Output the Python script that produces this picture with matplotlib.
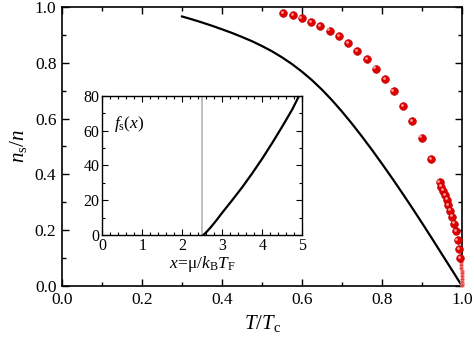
import matplotlib
matplotlib.use("Agg")
import matplotlib.pyplot as plt
import matplotlib.transforms as mtransforms
from matplotlib.ticker import MultipleLocator, FormatStrFormatter

plt.rcParams['font.family'] = 'serif'
plt.rcParams['font.serif'] = ['Liberation Serif', 'DejaVu Serif']
plt.rcParams['mathtext.fontset'] = 'custom'
plt.rcParams['mathtext.rm'] = 'Liberation Serif'
plt.rcParams['mathtext.it'] = 'Liberation Serif:italic'

# Theory curve: superfluid fraction vs reduced temperature
t_theory = [0.300, 0.325, 0.350, 0.375, 0.400, 0.425, 0.450, 0.475, 0.500,
            0.525, 0.550, 0.575, 0.600, 0.625, 0.650, 0.675, 0.700, 0.725,
            0.750, 0.775, 0.800, 0.825, 0.850, 0.875, 0.900, 0.925, 0.950,
            0.975, 1.000]
ns_theory = [0.966, 0.9557, 0.9445, 0.9327, 0.920, 0.9069, 0.8925, 0.8773,
             0.860, 0.8412, 0.8195, 0.7954, 0.768, 0.7376, 0.7035, 0.6659,
             0.625, 0.5815, 0.5355, 0.4877, 0.438, 0.387, 0.3345, 0.2809,
             0.226, 0.1701, 0.1135, 0.057, 0.0]

# Data points (large spheres)
t_points = [0.553, 0.577, 0.599, 0.622, 0.646, 0.669, 0.692, 0.715, 0.738,
            0.762, 0.784, 0.807, 0.829, 0.852, 0.876, 0.899, 0.922,
            0.944, 0.948, 0.952, 0.957, 0.962, 0.966, 0.971, 0.976, 0.980,
            0.985, 0.989, 0.993, 0.996]
ns_points = [0.978, 0.970, 0.959, 0.946, 0.932, 0.915, 0.895, 0.871, 0.843,
             0.814, 0.779, 0.742, 0.698, 0.646, 0.591, 0.532, 0.456,
             0.372, 0.356, 0.342, 0.327, 0.310, 0.290, 0.270, 0.249, 0.224,
             0.196, 0.165, 0.132, 0.099]

# Points very close to Tc (small markers)
t_near = [0.998, 0.998, 0.998, 0.999, 0.999, 0.999, 0.999, 0.999, 1.0, 1.0]
ns_near = [0.085, 0.075, 0.065, 0.055, 0.045, 0.035, 0.025, 0.015, 0.008, 0.003]

# Inset: f_s(x)
x_inset = [2.52, 2.6, 2.7, 2.85, 3.0, 3.25, 3.5, 3.75, 4.0, 4.25, 4.5,
           4.75, 4.92]
f_inset = [0.0, 1.8, 4.3, 8.5, 13.0, 20.2, 27.6, 35.6, 44.0, 53.0, 62.4,
           72.2, 80.0]
x_cut = 2.5

fig = plt.figure(figsize=(4.74, 3.49), dpi=100)
ax = fig.add_axes([0.1308, 0.1805, 0.8439, 0.7995])

ax.plot(t_theory, ns_theory, color='black', lw=1.6, zorder=2,
        solid_joinstyle='round')

ax.plot(t_near, ns_near, 'o', ms=2.6, color='#e84040', mec='#ff9090',
        mew=0.4, zorder=3, clip_on=False)
ax.plot(t_points, ns_points, 'o', ms=5.6, color='#e00000', mec='#b00000',
        mew=0.4, zorder=4, clip_on=False)
hl = mtransforms.offset_copy(ax.transData, fig=fig, x=-0.9, y=0.9, units='points')
ax.plot(t_points, ns_points, 'o', ms=2.0, color='#ff9a9a', mew=0,
        transform=hl, zorder=5, clip_on=False)

ax.set_xlim(0, 1)
ax.set_ylim(0, 1)
ax.xaxis.set_major_locator(MultipleLocator(0.2))
ax.xaxis.set_minor_locator(MultipleLocator(0.1))
ax.yaxis.set_major_locator(MultipleLocator(0.2))
ax.yaxis.set_minor_locator(MultipleLocator(0.1))
ax.xaxis.set_major_formatter(FormatStrFormatter('%.1f'))
ax.yaxis.set_major_formatter(FormatStrFormatter('%.1f'))
ax.tick_params(which='both', direction='in', top=True, right=True,
               labelsize=12.5, width=1.0, pad=4)
ax.tick_params(which='major', length=5)
ax.tick_params(which='minor', length=3)
for s in ax.spines.values():
    s.set_linewidth(1.2)

ax.set_xlabel(r'$T/T_{\mathrm{c}}$', fontsize=15, labelpad=4)
ax.set_ylabel(r'$n_{\mathrm{s}}/n$', fontsize=15, labelpad=4)

# Inset
ins = fig.add_axes([0.2158, 0.3258, 0.4220, 0.4000])
ins.axvline(x_cut, color='#b4b4b4', lw=1.2, zorder=1)
ins.plot(x_inset, f_inset, color='black', lw=1.6, zorder=2,
         solid_joinstyle='round')
ins.set_xlim(0, 5)
ins.set_ylim(0, 80)
ins.xaxis.set_major_locator(MultipleLocator(1))
ins.xaxis.set_minor_locator(MultipleLocator(0.2))
ins.yaxis.set_major_locator(MultipleLocator(20))
ins.yaxis.set_minor_locator(MultipleLocator(10))
ins.tick_params(which='both', direction='in', top=True, right=True,
                labelsize=11.5, width=0.8, pad=2)
ins.tick_params(which='major', length=4)
ins.tick_params(which='minor', length=2.5)
for s in ins.spines.values():
    s.set_linewidth(1.0)
ins.text(0.3, 64, r'$f_{\mathrm{s}}(x)$', fontsize=12.5, va='center', ha='left')
ins.set_xlabel(r'$x\!=\!\mathrm{\mu}/k_{\mathrm{B}}T_{\mathrm{F}}$', fontsize=12.5,
               labelpad=0)

fig.savefig('out.png', dpi=100)
